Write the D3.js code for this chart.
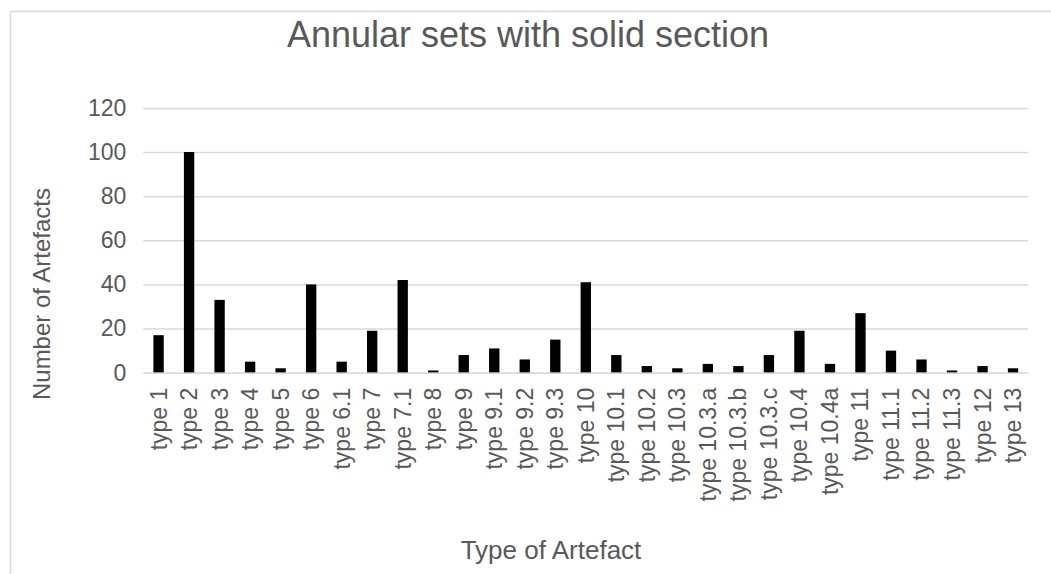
<!DOCTYPE html>
<html>
<head>
<meta charset="utf-8">
<script src="https://cdn.jsdelivr.net/npm/d3@7"></script>
<style>
  html, body { margin: 0; padding: 0; background: #fff; }
  svg { display: block; font-family: "Liberation Sans", Arial, sans-serif; }
</style>
</head>
<body>
<svg id="chart" width="1051" height="574"></svg>
<script>
// Artefact types and counts
const categories = [
  "type 1", "type 2", "type 3", "type 4", "type 5", "type 6", "type 6.1",
  "type 7", "type 7.1", "type 8", "type 9", "type 9.1", "type 9.2", "type 9.3",
  "type 10", "type 10.1", "type 10.2", "type 10.3", "type 10.3.a", "type 10.3.b",
  "type 10.3.c", "type 10.4", "type 10.4a", "type 11", "type 11.1", "type 11.2",
  "type 11.3", "type 12", "type 13"
];
const counts = [
  17, 100, 33, 5, 2, 40, 5,
  19, 42, 1, 8, 11, 6, 15,
  41, 8, 3, 2, 4, 3,
  8, 19, 4, 27, 10, 6,
  1, 3, 2
];
const yTicks = [0, 20, 40, 60, 80, 100, 120];

const titleText = "Annular sets with solid section";
const xTitle = "Type of Artefact";
const yTitle = "Number of Artefacts";

const W = 1051, H = 574;
const plot = { left: 143.3, right: 1028.3, top: 107.9, bottom: 372.7 };
const textColor = "#595959";
const gridColor = "#d9d9d9";

const svg = d3.select("#chart");

// chart area frame
svg.append("rect")
  .attr("x", 10.5).attr("y", 11.5)
  .attr("width", W + 20).attr("height", H + 20)
  .attr("fill", "#fff")
  .attr("stroke", gridColor).attr("stroke-width", 1.5);

const x = d3.scaleBand()
  .domain(categories)
  .range([plot.left, plot.right])
  .paddingInner(0.661)
  .paddingOuter(0.3305);

const y = d3.scaleLinear()
  .domain([0, 120])
  .range([plot.bottom, plot.top]);

// horizontal gridlines
const yAxis = d3.axisLeft(y)
  .tickValues(yTicks)
  .tickSize(-(plot.right - plot.left))
  .tickPadding(17)
  .tickFormat(d3.format("d"));

const gy = svg.append("g")
  .attr("transform", `translate(${plot.left},0)`)
  .call(yAxis);
gy.select(".domain").remove();
gy.selectAll(".tick line")
  .attr("stroke", gridColor).attr("stroke-width", 1.5);
gy.selectAll(".tick text")
  .attr("fill", textColor)
  .attr("font-size", 23)
  .attr("font-family", "Liberation Sans, Arial, sans-serif");

// bars
svg.append("g")
  .selectAll("rect")
  .data(categories.map((c, i) => ({ c, v: counts[i] })))
  .join("rect")
  .attr("x", d => x(d.c))
  .attr("width", x.bandwidth())
  .attr("y", d => y(d.v))
  .attr("height", d => y(0) - y(d.v))
  .attr("fill", "#000");

// category axis
const xAxis = d3.axisBottom(x).tickSize(0).tickPadding(0);
const gx = svg.append("g")
  .attr("transform", `translate(0,${plot.bottom})`)
  .call(xAxis);
gx.select(".domain")
  .attr("stroke", gridColor).attr("stroke-width", 1.5);
gx.selectAll(".tick text")
  .attr("fill", textColor)
  .attr("font-size", 23)
  .attr("font-family", "Liberation Sans, Arial, sans-serif")
  .attr("text-anchor", "end")
  .attr("dy", null)
  .attr("y", 0)
  .attr("transform", "translate(8,15) rotate(-90)");

// title
svg.append("text")
  .attr("x", 528).attr("y", 47)
  .attr("text-anchor", "middle")
  .attr("fill", textColor)
  .attr("font-size", 36)
  .text(titleText);

// axis titles
svg.append("text")
  .attr("x", 551).attr("y", 559)
  .attr("text-anchor", "middle")
  .attr("fill", textColor)
  .attr("font-size", 26)
  .text(xTitle);

svg.append("text")
  .attr("transform", "translate(50,294) rotate(-90)")
  .attr("text-anchor", "middle")
  .attr("fill", textColor)
  .attr("font-size", 24)
  .text(yTitle);
</script>
</body>
</html>
